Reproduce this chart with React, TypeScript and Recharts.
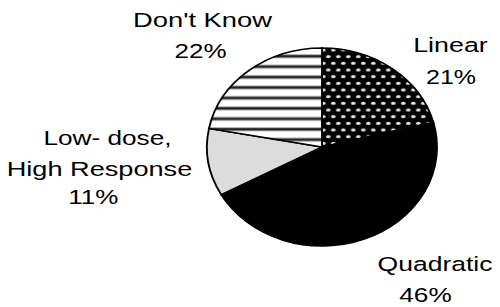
import React from 'react';
import { PieChart, Pie, Cell, Sector } from 'recharts';

// ---- data ----
const categories = ['Linear', 'Quadratic', 'Low-dose, High Response', "Don't Know"];
const shares = [21, 46, 11, 22];
const labelTitles = [['Linear'], ['Quadratic'], ['Low- dose,', 'High Response'], ["Don't Know"]];

// ---- styles / layout ----
const FILLS = ['url(#dotPat)', '#000000', '#dcdcdc', 'url(#stripePat)'];
const CX = 322;
const CY = 147;
const R = 99;
const SX = 1.162; // horizontal stretch of the pie
const FONT = '"Liberation Sans", Arial, Helvetica, sans-serif';
const FONT_SIZE = 20.5;
// per label line: offset from pie centre (dx to line centre, dy to baseline) and drawn width
const LABEL_LAYOUT: { dx: number; dy: number; w: number }[][] = [
  [{ dx: 128.5, dy: -95.3, w: 74.6 }, { dx: 129, dy: -62.7, w: 50 }],
  [{ dx: 113, dy: 124, w: 115 }, { dx: 103.5, dy: 155.3, w: 52.4 }],
  [{ dx: -214.5, dy: -2, w: 128 }, { dx: -222.5, dy: 29, w: 185.6 }, { dx: -228.7, dy: 57, w: 50 }],
  [{ dx: -119.5, dy: -119.7, w: 139 }, { dx: -121.5, dy: -88.7, w: 52 }],
];

const data = categories.map((name, i) => ({ name, value: shares[i] }));

const EllipseSector = (props: any) => {
  const { cx, cy } = props;
  return (
    <g transform={`translate(${cx} ${cy}) scale(${SX} 1) translate(${-cx} ${-cy})`}>
      <Sector {...props} />
    </g>
  );
};

const renderLabel = (props: any) => {
  const { cx, cy, index } = props;
  const lines = [...labelTitles[index], `${shares[index]}%`];
  const layout = LABEL_LAYOUT[index];
  return (
    <g>
      {lines.map((t, j) => (
        <text
          key={j}
          x={cx + layout[j].dx}
          y={cy + layout[j].dy}
          textAnchor="middle"
          fontFamily={FONT}
          fontSize={FONT_SIZE}
          fill="#000"
          textLength={layout[j].w}
          lengthAdjust="spacingAndGlyphs"
        >
          {t}
        </text>
      ))}
    </g>
  );
};

export default function App() {
  const dotW = 10 / SX;
  return (
    <div style={{ position: 'absolute', left: 0, top: 0, width: 500, height: 307, background: '#fff' }}>
      <PieChart width={500} height={307} margin={{ top: 0, right: 0, bottom: 0, left: 0 }}>
        <defs>
          <pattern id="dotPat" patternUnits="userSpaceOnUse" width={dotW} height={13.34}>
            <rect x={0} y={0} width={dotW} height={13.34} fill="#000" />
            <ellipse cx={0.4} cy={3.33} rx={2.0} ry={1.55} fill="#e6e6e6" />
            <ellipse cx={0.4 + dotW} cy={3.33} rx={2.0} ry={1.55} fill="#e6e6e6" />
            <ellipse cx={4.7} cy={10.0} rx={2.0} ry={1.55} fill="#e6e6e6" />
          </pattern>
          <pattern id="stripePat" patternUnits="userSpaceOnUse" width={20} height={10.43}>
            <rect x={0} y={0} width={20} height={10.43} fill="#fff" />
            <rect x={0} y={2.1} width={20} height={4} fill="#9a9a9a" />
            <rect x={0} y={3.1} width={20} height={2} fill="#1a1a1a" />
          </pattern>
        </defs>
        <Pie
          data={data}
          dataKey="value"
          nameKey="name"
          cx={CX}
          cy={CY}
          outerRadius={R}
          startAngle={90}
          endAngle={-270}
          stroke="#000"
          strokeWidth={1.6}
          isAnimationActive={false}
          shape={EllipseSector}
          label={renderLabel}
          labelLine={false}
        >
          {data.map((d, i) => (
            <Cell key={d.name} fill={FILLS[i]} />
          ))}
        </Pie>
      </PieChart>
    </div>
  );
}
